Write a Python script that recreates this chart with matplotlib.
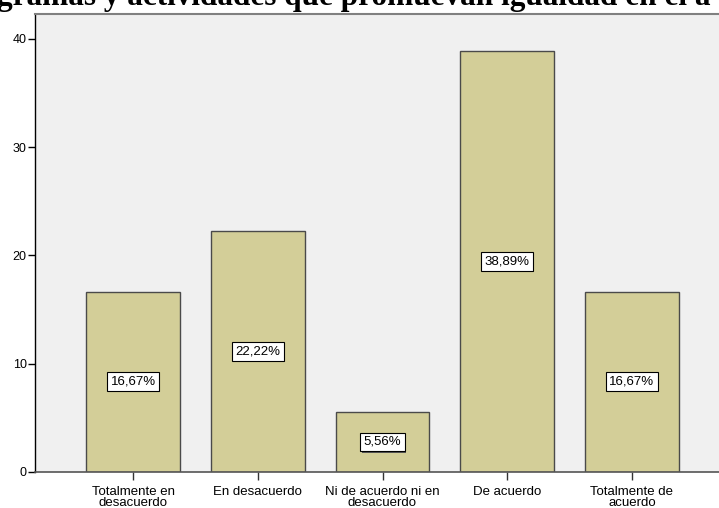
import matplotlib.pyplot as plt
import matplotlib.patheffects as pe

categorias = ['Totalmente en\ndesacuerdo', 'En desacuerdo', 'Ni de acuerdo ni en\ndesacuerdo',
              'De acuerdo', 'Totalmente de\nacuerdo']
porcentajes = [16.67, 22.22, 5.56, 38.89, 16.67]
etiquetas = ['16,67%', '22,22%', '5,56%', '38,89%', '16,67%']
titulo = 'gramas y actividades que promuevan igualdad en el a'

fig = plt.figure(figsize=(7.19, 5.08), dpi=100)
ax = fig.add_axes([35/719, 36/508, 695/719, 458/508])
ax.set_facecolor('#f0f0f0')

x = range(len(categorias))
ax.bar(x, porcentajes, width=0.75, color='#d3ce98', edgecolor='#4a4a4a', linewidth=1, zorder=2)

for xi, v, t in zip(x, porcentajes, etiquetas):
    ax.text(xi, v / 2, t, ha='center', va='center', fontsize=9.5, family='Liberation Sans', zorder=4,
            bbox=dict(boxstyle='square,pad=0.25', facecolor='white', edgecolor='black', linewidth=0.8,
                      path_effects=[pe.withSimplePatchShadow(offset=(1, -1), shadow_rgbFace='#555555', alpha=1)]))

ax.set_xlim(-0.786, 4.786)
ax.set_ylim(0, 42.3)
ax.set_yticks([0, 10, 20, 30, 40])
ax.set_xticks(list(x))
ax.set_xticklabels(categorias, fontsize=9.5, family='Liberation Sans', linespacing=0.95)
for lab in ax.get_yticklabels():
    lab.set_fontsize(9)
    lab.set_family('Liberation Sans')
ax.tick_params(axis='y', length=5, width=1, pad=1, color='black')
ax.tick_params(axis='x', length=6, width=1, pad=4, color='#333333')

ax.spines['left'].set_color('black')
ax.spines['left'].set_linewidth(1)
ax.spines['bottom'].set_color('#555555')
ax.spines['bottom'].set_linewidth(1.2)
ax.spines['top'].set_color('#808080')
ax.spines['top'].set_linewidth(1.5)
ax.spines['right'].set_visible(False)

fig.text(-3/719, 1 - 5/508, titulo, ha='left', va='baseline', fontsize=22.5,
         family='Liberation Serif', fontweight='bold')

fig.savefig('out.png', dpi=100)
